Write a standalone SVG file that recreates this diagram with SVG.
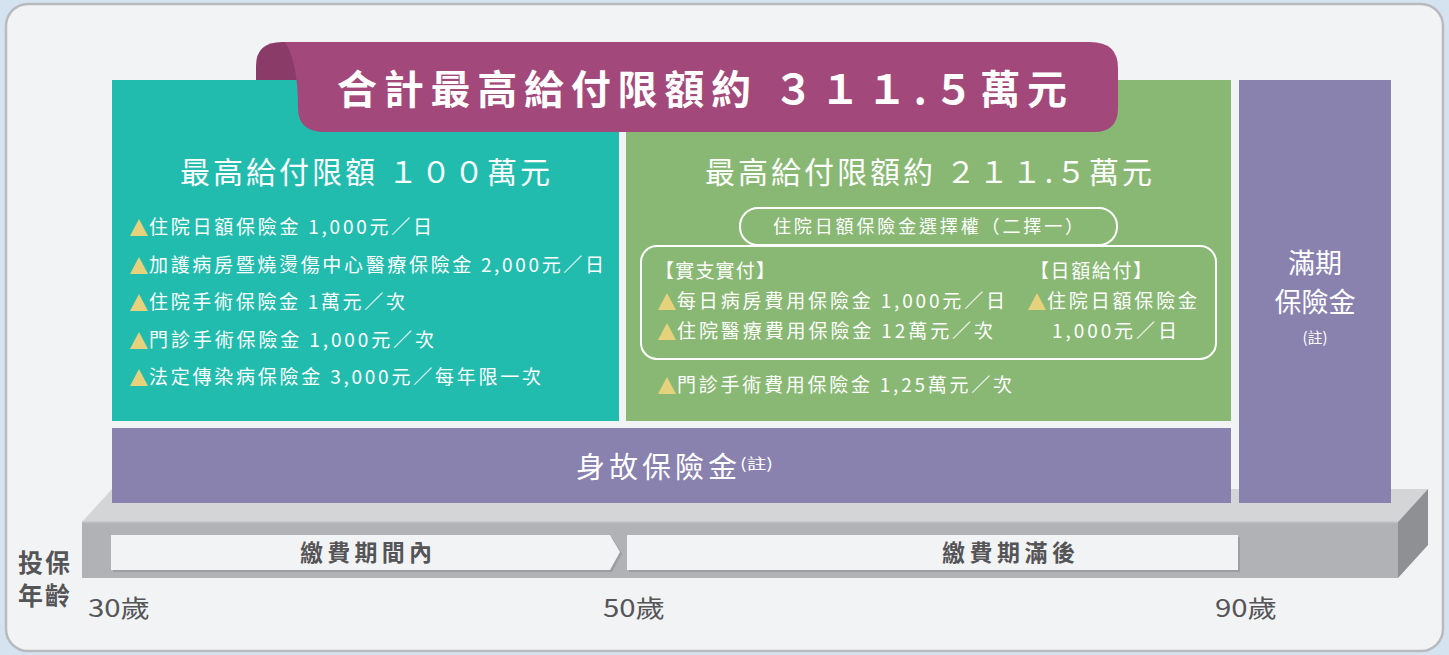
<svg xmlns="http://www.w3.org/2000/svg" width="1449" height="655" viewBox="0 0 1449 655">
<defs>
<style>
.cjk{font-family:"Noto Sans CJK TC","Noto Sans CJK SC",sans-serif;}
.w{fill:#ffffff;}
.g{fill:#555558;}
.tri{fill:#e6d17c;}
.row{font-size:19px;}
</style>
</defs>
<rect x="0" y="0" width="1449" height="655" fill="#d4e3ef"/>
<rect x="6" y="4" width="1437" height="647" rx="22" fill="#f2f3f5" stroke="#b9babe" stroke-width="2.5"/>

<!-- platform -->
<g id="platform">
<polygon points="82,522 112,489 1428,489 1398,522" fill="#d4d5d7"/>
<rect x="82" y="522" width="1316" height="56" fill="#b1b2b5"/>
<line x1="82" y1="522" x2="1398" y2="522" stroke="#c4c5c8" stroke-width="1.5"/>
<polygon points="1398,522 1428,489 1428,545 1398,578" fill="#8f9093"/>
</g>

<g id="pay-during">
<polygon points="113,537 612,537 622,554 612,572 113,572" fill="#9d9ea2"/>
<polygon points="111,535 610,535 620,552 610,570 111,570" fill="#f2f3f5"/>
<text class="cjk g" x="300" y="561" font-size="23" font-weight="bold" textLength="132" lengthAdjust="spacing">繳費期間內</text>
</g>
<g id="pay-after">
<rect x="629" y="537" width="611" height="35" fill="#9d9ea2"/>
<rect x="627" y="535" width="611" height="35" fill="#f2f3f5"/>
<text class="cjk g" x="942" y="561" font-size="23" font-weight="bold" textLength="133" lengthAdjust="spacing">繳費期滿後</text>
</g>

<g id="age-labels">
<text class="cjk g" x="18" y="572" font-size="25" font-weight="bold" textLength="52" lengthAdjust="spacing">投保</text>
<text class="cjk g" x="18" y="605" font-size="25" font-weight="bold" textLength="52" lengthAdjust="spacing">年齡</text>
<text class="cjk g" x="88" y="617" font-size="24" textLength="62" lengthAdjust="spacingAndGlyphs">30歲</text>
<text class="cjk g" x="603" y="617" font-size="24" textLength="62" lengthAdjust="spacingAndGlyphs">50歲</text>
<text class="cjk g" x="1215" y="617" font-size="24" textLength="62" lengthAdjust="spacingAndGlyphs">90歲</text>
</g>

<!-- banner back -->
<path d="M256,80 L256,66 Q256,42 282,42 L330,42 L330,80 Z" fill="#8b3b67"/>

<g id="left-box">
<rect x="112" y="80" width="507" height="341" fill="#22bcae"/>
<text class="cjk w" x="180" y="183" font-size="30" textLength="370" lengthAdjust="spacing">最高給付限額 １００萬元</text>
<g class="cjk w row">
<text x="149" y="234" textLength="283" lengthAdjust="spacing">住院日額保險金 1,000元／日</text>
<text x="149" y="272" textLength="455" lengthAdjust="spacing">加護病房暨燒燙傷中心醫療保險金 2,000元／日</text>
<text x="149" y="309" textLength="256" lengthAdjust="spacing">住院手術保險金 1萬元／次</text>
<text x="149" y="347" textLength="285" lengthAdjust="spacing">門診手術保險金 1,000元／次</text>
<text x="149" y="384" textLength="392" lengthAdjust="spacing">法定傳染病保險金 3,000元／每年限一次</text>
</g>
<g class="tri">
<polygon points="130,236 139,219 148,236"/>
<polygon points="130,274 139,257 148,274"/>
<polygon points="130,311 139,294 148,311"/>
<polygon points="130,349 139,332 148,349"/>
<polygon points="130,386 139,369 148,386"/>
</g>
</g>

<g id="right-box">
<rect x="626" y="80" width="605" height="341" fill="#89b874"/>
<text class="cjk w" x="705" y="183" font-size="30" textLength="447" lengthAdjust="spacing">最高給付限額約 ２１１.５萬元</text>
<rect x="740" y="208" width="377" height="37" rx="18" fill="none" stroke="#ffffff" stroke-width="2"/>
<text class="cjk w" x="928" y="233" font-size="18" text-anchor="middle" textLength="310" lengthAdjust="spacing">住院日額保險金選擇權（二擇一）</text>
<rect x="641" y="246" width="575" height="113" rx="16" fill="none" stroke="#ffffff" stroke-width="2"/>
<g class="cjk w row">
<text x="655" y="278" textLength="120" lengthAdjust="spacing">【實支實付】</text>
<text x="1030" y="278" textLength="122" lengthAdjust="spacing">【日額給付】</text>
<text x="677" y="308" textLength="328" lengthAdjust="spacing">每日病房費用保險金 1,000元／日</text>
<text x="1047" y="308" textLength="150" lengthAdjust="spacing">住院日額保險金</text>
<text x="677" y="338" textLength="316" lengthAdjust="spacing">住院醫療費用保險金 12萬元／次</text>
<text x="1052" y="338" textLength="125" lengthAdjust="spacing">1,000元／日</text>
<text x="677" y="392" textLength="335" lengthAdjust="spacing">門診手術費用保險金 1,25萬元／次</text>
</g>
<g class="tri">
<polygon points="658,310 667,293 676,310"/>
<polygon points="1028,310 1037,293 1046,310"/>
<polygon points="658,340 667,323 676,340"/>
<polygon points="658,394 667,377 676,394"/>
</g>
</g>

<g id="death-benefit">
<rect x="112" y="428" width="1119" height="75" fill="#8981ae"/>
<text class="cjk w" x="576" y="478" font-size="29" textLength="161" lengthAdjust="spacing">身故保險金</text>
<text class="cjk w" x="740" y="469" font-size="15" textLength="33" lengthAdjust="spacingAndGlyphs">(註)</text>
</g>

<g id="maturity-benefit">
<rect x="1239" y="80" width="152" height="423" fill="#8981ae"/>
<text class="cjk w" x="1315" y="273" font-size="27" text-anchor="middle">滿期</text>
<text class="cjk w" x="1315" y="312" font-size="27" text-anchor="middle">保險金</text>
<text class="cjk w" x="1315" y="343" font-size="15" text-anchor="middle">(註)</text>
</g>

<g id="title-banner">
<path d="M285,42 L1090,42 Q1118,42 1118,68 L1118,108 Q1118,132 1094,132 L325,132 Q298,132 298,108 Q298,62 285,42 Z" fill="#a3487a"/>
<text class="cjk w" x="337" y="104" font-size="40" font-weight="bold" textLength="730" lengthAdjust="spacing">合計最高給付限額約 ３１１.５萬元</text>
</g>
</svg>
